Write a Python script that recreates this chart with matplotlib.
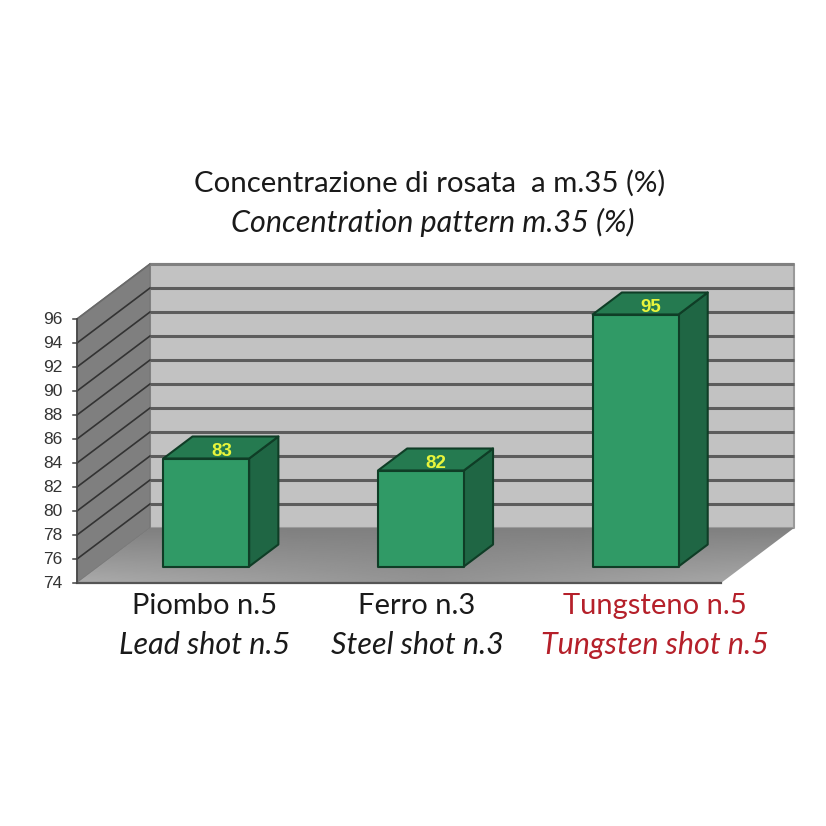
import numpy as np
import matplotlib
matplotlib.use('Agg')
import matplotlib.pyplot as plt
from matplotlib.patches import Polygon

# data
values = [83, 82, 95]
names_it = ['Piombo n.5', 'Ferro n.3', 'Tungsteno n.5']
names_en = ['Lead shot n.5', 'Steel shot n.3', 'Tungsten shot n.5']
name_colors = ['#1a1a1a', '#1a1a1a', '#b5202a']
ticks = list(range(74, 98, 2))
title_it = 'Concentrazione di rosata  a m.35 (%)'
title_en = 'Concentration pattern m.35 (%)'

# label centres, in category units from the left of the floor
label_pos = [0.596, 1.584, 2.693]

# fake 3d: depth goes 0 (front) to 1 (back wall)
DX = 73 / 214.67
DY = 55 / 12.0
YMIN = ticks[0]
YMAX = ticks[-1]
NCAT = len(values)


def pr(x, y, d):
    return (x + DX * d, y + DY * d)


fig = plt.figure(figsize=(8.26, 8.26), dpi=100)
ax = fig.add_axes([0, 0, 1, 1])
ax.axis('off')


def poly(pts, fc, ec='none', lw=0, z=1):
    ax.add_patch(Polygon(pts, closed=True, fc=fc, ec=ec, lw=lw, zorder=z, joinstyle='round'))


# walls
poly([pr(0, YMIN, 1), pr(NCAT, YMIN, 1), pr(NCAT, YMAX, 1), pr(0, YMAX, 1)], '#c2c2c2', '#9a9a9a', 1.5)
poly([pr(0, YMIN, 0), pr(0, YMIN, 1), pr(0, YMAX, 1), pr(0, YMAX, 0)], '#7f7f7f', '#777777', 1)

# floor with a soft gradient, lighter to the front corners
floor = Polygon([pr(0, YMIN, 0), pr(NCAT, YMIN, 0), pr(NCAT, YMIN, 1), pr(0, YMIN, 1)],
                closed=True, fc='none', ec='none', transform=ax.transData)
ax.add_patch(floor)
u = np.linspace(-1, 1, 200)
v = np.linspace(0, 1, 60)
U, V = np.meshgrid(u, v)
grad = 0.50 + 0.17 * (1 - V) * (0.45 + 0.55 * np.abs(U))
im = ax.imshow(grad, cmap='gray', vmin=0, vmax=1, aspect='auto', origin='lower',
               extent=(0, NCAT + DX, YMIN, YMIN + DY), zorder=1)
im.set_clip_path(floor)

# grid lines on back wall and side wall
for t in ticks[1:]:
    a = pr(0, t, 0)
    b = pr(0, t, 1)
    c = pr(NCAT, t, 1)
    top = t == YMAX
    ax.plot([a[0], b[0]], [a[1], b[1]], color='#6a6a6a' if top else '#333333', lw=1.2, zorder=2)
    ax.plot([b[0], c[0]], [b[1], c[1]], color='#808080' if top else '#5c5c5c', lw=2.2, zorder=2,
            solid_capstyle='butt')

# front edges and ticks
ax.plot([0, 0], [YMIN, YMAX], color='#444444', lw=1.2, zorder=3)
ax.plot([0, NCAT], [YMIN, YMIN], color='#555555', lw=1.6, zorder=3)
for t in ticks:
    ax.plot([-0.018, 0], [t, t], color='#444444', lw=1.1, zorder=3)
    ax.text(-0.068, t - 0.08, str(t), ha='right', va='center', fontsize=12.5, color='#333333',
            family='Liberation Sans', zorder=5)

# bars
for i, val in enumerate(values):
    x0 = i + 0.30
    x1 = i + 0.70
    d0 = 0.30
    d1 = 0.70
    edge = '#0f3d26'
    poly([pr(x0, YMIN, d0), pr(x1, YMIN, d0), pr(x1, val, d0), pr(x0, val, d0)], '#309a66', edge, 1.5, 6)
    poly([pr(x1, YMIN, d0), pr(x1, YMIN, d1), pr(x1, val, d1), pr(x1, val, d0)], '#1f6644', edge, 1.5, 5)
    poly([pr(x0, val, d0), pr(x1, val, d0), pr(x1, val, d1), pr(x0, val, d1)], '#257a50', edge, 1.5, 5)
    tx, ty = pr(x0 + 0.23, val, 0.42)
    ax.text(tx, ty, str(val), ha='center', va='center', fontsize=13.5, color='#e8f53c',
            fontweight='bold', family='Liberation Sans', zorder=7)

# category labels under the floor
for i in range(NCAT):
    ax.text(label_pos[i], YMIN - 1.92, names_it[i], ha='center', va='center', fontsize=21,
            color=name_colors[i], family='Lato')
    ax.text(label_pos[i], YMIN - 5.17, names_en[i], ha='center', va='center', fontsize=22,
            color=name_colors[i], family='Lato', style='italic')

ax.set_xlim(-77 / 214.67, (826 - 77) / 214.67)
ax.set_ylim(74 - (826 - 583) / 12.0, 74 + 583 / 12.0)

fig.text(430 / 826, 1 - 183 / 826, title_it, ha='center', va='center', fontsize=21.2,
         color='#1a1a1a', family='Lato')
fig.text(433 / 826, 1 - 222 / 826, title_en, ha='center', va='center', fontsize=22,
         color='#1a1a1a', family='Lato', style='italic')

fig.savefig('out.png', dpi=100, facecolor='white')
